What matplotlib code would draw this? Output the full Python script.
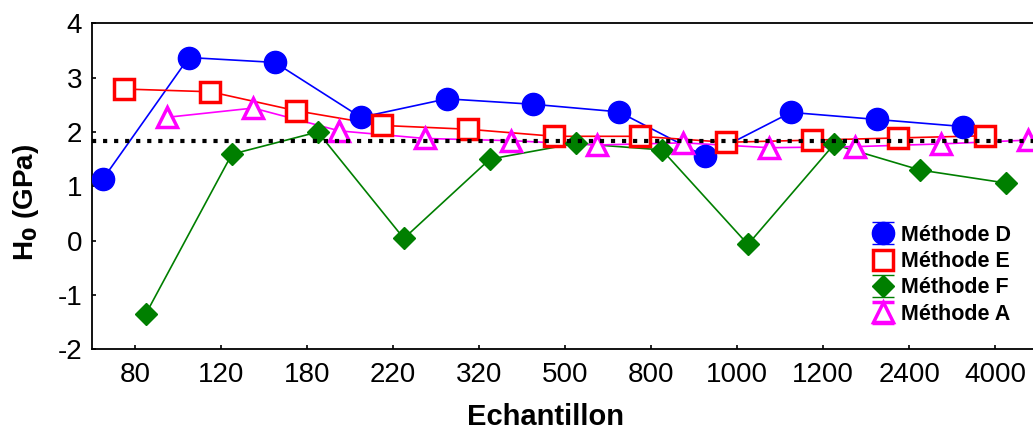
import numpy as np
import matplotlib
matplotlib.use("Agg")
import matplotlib.pyplot as plt

plt.rcParams['font.family'] = ['Liberation Sans', 'DejaVu Sans']

# samples (x categories)
echantillons = ['80', '120', '180', '220', '320', '500', '800', '1000', '1200', '2400', '4000']

# H0 values (GPa)
methode_d = [1.13, 3.37, 3.28, 2.27, 2.61, 2.51, 2.37, 1.55, 2.36, 2.23, 2.10]
methode_e = [2.79, 2.74, 2.39, 2.12, 2.05, 1.92, 1.92, 1.81, 1.85, 1.89, 1.93]
methode_f = [-1.35, 1.59, 2.00, 0.04, 1.50, 1.79, 1.67, -0.07, 1.77, 1.30, 1.06]
methode_a = [2.27, 2.44, 2.02, 1.88, 1.84, 1.76, 1.80, 1.71, 1.73, 1.78, 1.85]
labels = ['Méthode D', 'Méthode E', 'Méthode F', 'Méthode A']
ref_h0 = 1.83

fig = plt.figure(figsize=(10.33, 4.33), dpi=100)
ax = fig.add_axes([0.0891, 0.1933, 0.916, 0.7529])

idx = np.arange(len(echantillons))
series = [
    (methode_d, -0.375, dict(marker='o', color='#0000ff', mfc='#0000ff', mec='#0000ff', ms=16, mew=1)),
    (methode_e, -0.125, dict(marker='s', color='#ff0000', mfc='white', mec='#ff0000', ms=14, mew=2.5)),
    (methode_f, 0.125, dict(marker='D', color='#007f00', mfc='#007f00', mec='#007f00', ms=11.5, mew=1)),
    (methode_a, 0.375, dict(marker='^', color='#ff00ff', mfc='white', mec='#ff00ff', ms=14, mew=2.5)),
]

for vals, off, st in series:
    ax.plot(idx + off, vals, '-', color=st['color'], lw=1.2, zorder=2)
for vals, off, st in series:
    ax.plot(idx + off, vals, ls='none', marker=st['marker'], ms=st['ms'],
            mfc=st['mfc'], mec=st['mec'], mew=st['mew'], zorder=3)

ax.axhline(ref_h0, color='black', ls=':', lw=3, zorder=4)

# legend handles drawn like error-bar entries
handles = []
for (vals, off, st), lab in zip(series, labels):
    cap = 0 if st['marker'] == 's' else 8
    h = ax.errorbar([np.nan], [np.nan], yerr=[0.1], marker=st['marker'], ms=st['ms'],
                    mfc=st['mfc'], mec=st['mec'], mew=st['mew'], color=st['color'],
                    ecolor=st['color'], capsize=cap, elinewidth=1.5, capthick=1.5,
                    ls='none', label=lab)
    handles.append(h)
fig.legend(handles, labels, loc='upper left', bbox_to_anchor=(0.844, 0.481),
           frameon=False, prop={'weight': 'bold', 'size': 15.5},
           handlelength=1.0, handletextpad=0.35, labelspacing=0.25,
           borderpad=0, borderaxespad=0)

ax.set_xlim(-0.5, 10.5)
ax.set_ylim(-2, 4)
ax.set_xticks(idx)
ax.set_xticklabels(echantillons)
ax.set_yticks([-2, -1, 0, 1, 2, 3, 4])
ax.set_yticklabels(['-2', '-1', '0', '1', '2', '3', '4'])
ax.tick_params(direction='in', length=3, width=1.2, labelsize=20)
ax.tick_params(axis='x', pad=9)
ax.tick_params(axis='y', pad=7)
for s in ['left', 'top', 'bottom']:
    ax.spines[s].set_linewidth(1.3)
ax.spines['right'].set_visible(False)

ax.set_xlabel('Echantillon', fontsize=21, fontweight='bold')
ax.set_ylabel(r'H$_\mathbf{0}$ (GPa)', fontsize=20, fontweight='bold')
ax.xaxis.set_label_coords(0.479, -0.166)
ax.yaxis.set_label_coords(-0.054, 0.45)

fig.savefig('out.png', dpi=100)
